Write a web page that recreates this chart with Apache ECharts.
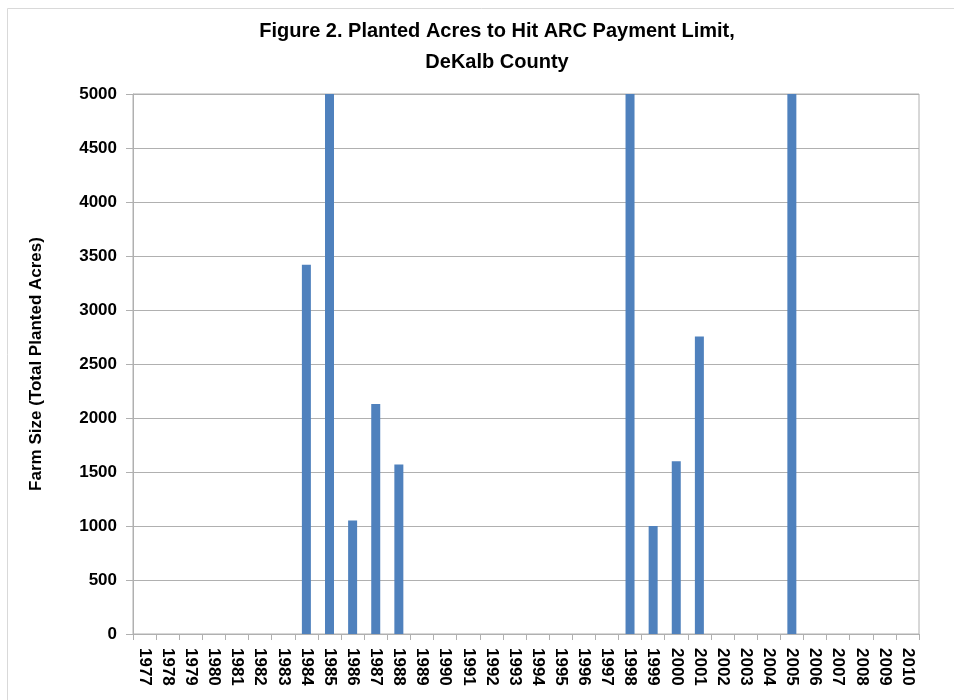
<!DOCTYPE html>
<html>
<head>
<meta charset="utf-8">
<script src="https://cdn.jsdelivr.net/npm/echarts@6/dist/echarts.min.js"></script>
<style>html,body{margin:0;padding:0;background:#fff}#c{width:954px;height:700px}</style>
</head>
<body>
<div id="c"></div>
<script>
const years = ['1977','1978','1979','1980','1981','1982','1983','1984','1985','1986','1987','1988','1989','1990','1991','1992','1993','1994','1995','1996','1997','1998','1999','2000','2001','2002','2003','2004','2005','2006','2007','2008','2009','2010'];
const acres = [null,null,null,null,null,null,null,3420,5000,1050,2130,1570,null,null,null,null,null,null,null,null,null,5000,1000,1600,2755,null,null,null,5000,null,null,null,null,null];
const titleText = 'Figure 2. Planted Acres to Hit ARC Payment Limit,\nDeKalb County';
const yAxisName = 'Farm Size (Total Planted Acres)';

const chart = echarts.init(document.getElementById('c'));
const font = '"Liberation Sans", Arial, sans-serif';
chart.setOption({
  animation: false,
  graphic: [{type:'rect', shape:{x:7.5, y:8.5, width:1000, height:1000}, style:{fill:'none', stroke:'#d9d9d9', lineWidth:1}, silent:true}],
  title: {
    text: titleText, left: 492, top: 11, textAlign: 'center',
    textStyle: {fontFamily: font, fontWeight: 'bold', fontSize: 20, color: '#000', lineHeight: 31}
  },
  grid: {left: 133, right: 35, top: 94, bottom: 66, show: true, borderColor: '#b0b0b0', borderWidth: 1, containLabel: false},
  xAxis: {
    type: 'category', data: years,
    axisLine: {lineStyle: {color: '#b0b0b0', width: 1}},
    axisTick: {show: true, length: 6, lineStyle: {color: '#b0b0b0'}},
    axisLabel: {rotate: -90, interval: 0, fontFamily: font, fontWeight: 'bold', fontSize: 17, color: '#000', margin: 14}
  },
  yAxis: {
    type: 'value', min: 0, max: 5000, interval: 500,
    name: yAxisName, nameLocation: 'middle', nameGap: 88, nameRotate: 90,
    nameTextStyle: {fontFamily: font, fontWeight: 'bold', fontSize: 17, color: '#000'},
    axisLine: {show: true, lineStyle: {color: '#b0b0b0', width: 1}},
    axisTick: {show: true, length: 7, lineStyle: {color: '#b0b0b0'}},
    splitLine: {lineStyle: {color: '#b0b0b0', width: 1}},
    axisLabel: {fontFamily: font, fontWeight: 'bold', fontSize: 17, color: '#000', margin: 16, formatter: v => String(v)}
  },
  series: [{type: 'bar', data: acres, barWidth: 9, itemStyle: {color: '#4F81BD'}}]
});
</script>
</body>
</html>
